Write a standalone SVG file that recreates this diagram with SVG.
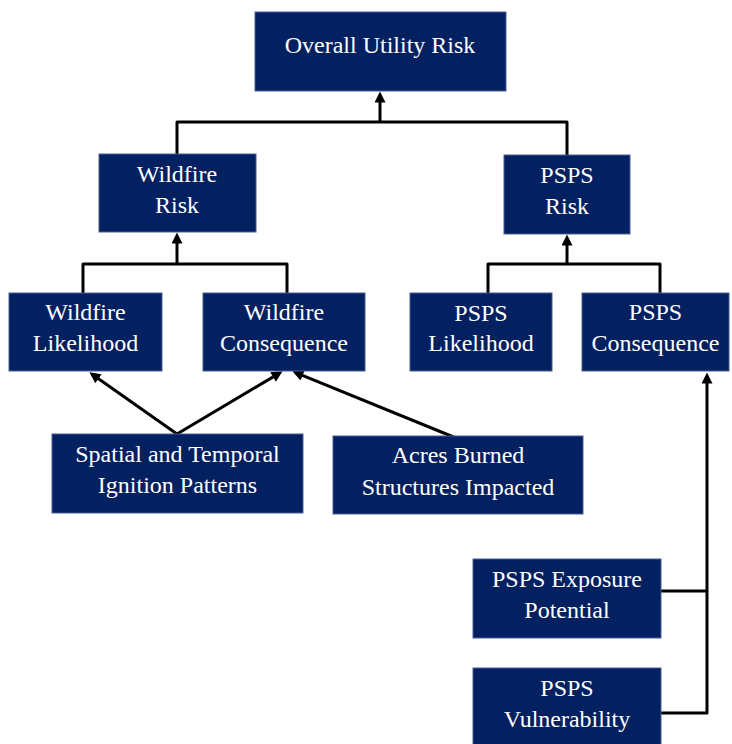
<svg xmlns="http://www.w3.org/2000/svg" width="732" height="744" viewBox="0 0 732 744">
<style>
.box{fill:#032061;stroke:#4a5f96;stroke-width:1}
.t{font-family:"Liberation Serif","Times New Roman",serif;font-size:24px;fill:#ffffff;text-anchor:middle}
.c{fill:none;stroke:#000;stroke-width:3;stroke-linejoin:round}
</style>
<defs>
<marker id="ah" viewBox="0 0 10 10" refX="5" refY="5" markerWidth="12" markerHeight="11" markerUnits="userSpaceOnUse" orient="auto">
<path d="M0,0 L10,5 L0,10 z" fill="#000"/>
</marker>
</defs>
<rect width="732" height="744" fill="#fff"/>
<g id="connectors">
<path class="c" d="M177,154 V122 H567 V155"/>
<path class="c" d="M380,122 V97" marker-end="url(#ah)"/>
<path class="c" d="M83,293 V264 H287 V293"/>
<path class="c" d="M177,264 V238" marker-end="url(#ah)"/>
<path class="c" d="M488,293 V264 H660 V293"/>
<path class="c" d="M567,264 V240" marker-end="url(#ah)"/>
<path class="c" d="M177,434 L93.9,375.5" marker-end="url(#ah)"/>
<path class="c" d="M177,434 L277.8,374.1" marker-end="url(#ah)"/>
<path class="c" d="M456,438 L297.5,373.3" marker-end="url(#ah)"/>
<path class="c" d="M661,591 H707 M661,713 H707 V378" marker-end="url(#ah)"/>
</g>
<g id="overall"><rect class="box" x="255" y="12" width="251" height="79"/><text class="t" x="380" y="53">Overall Utility Risk</text></g>
<g id="wildfire-risk"><rect class="box" x="99" y="154" width="157" height="78"/><text class="t" x="177" y="182">Wildfire</text><text class="t" x="177" y="213">Risk</text></g>
<g id="psps-risk"><rect class="box" x="504" y="155" width="126" height="79"/><text class="t" x="567" y="183">PSPS</text><text class="t" x="567" y="214">Risk</text></g>
<g id="wildfire-likelihood"><rect class="box" x="9" y="293" width="153" height="78"/><text class="t" x="85.5" y="320">Wildfire</text><text class="t" x="85.5" y="351">Likelihood</text></g>
<g id="wildfire-consequence"><rect class="box" x="203" y="293" width="162" height="78"/><text class="t" x="284" y="320">Wildfire</text><text class="t" x="284" y="351">Consequence</text></g>
<g id="psps-likelihood"><rect class="box" x="410" y="293" width="142" height="78"/><text class="t" x="481" y="321">PSPS</text><text class="t" x="481" y="351">Likelihood</text></g>
<g id="psps-consequence"><rect class="box" x="582" y="293" width="147" height="78"/><text class="t" x="655.5" y="320">PSPS</text><text class="t" x="655.5" y="351">Consequence</text></g>
<g id="ignition"><rect class="box" x="52" y="434" width="251" height="79"/><text class="t" x="177.5" y="462">Spatial and Temporal</text><text class="t" x="177.5" y="493">Ignition Patterns</text></g>
<g id="acres"><rect class="box" x="333" y="436" width="250" height="78"/><text class="t" x="458" y="463">Acres Burned</text><text class="t" x="458" y="495">Structures Impacted</text></g>
<g id="exposure"><rect class="box" x="473" y="559" width="188" height="79"/><text class="t" x="567" y="587">PSPS Exposure</text><text class="t" x="567" y="618">Potential</text></g>
<g id="vulnerability"><rect class="box" x="473" y="668" width="188" height="90"/><text class="t" x="567" y="696">PSPS</text><text class="t" x="567" y="727">Vulnerability</text></g>
</svg>
